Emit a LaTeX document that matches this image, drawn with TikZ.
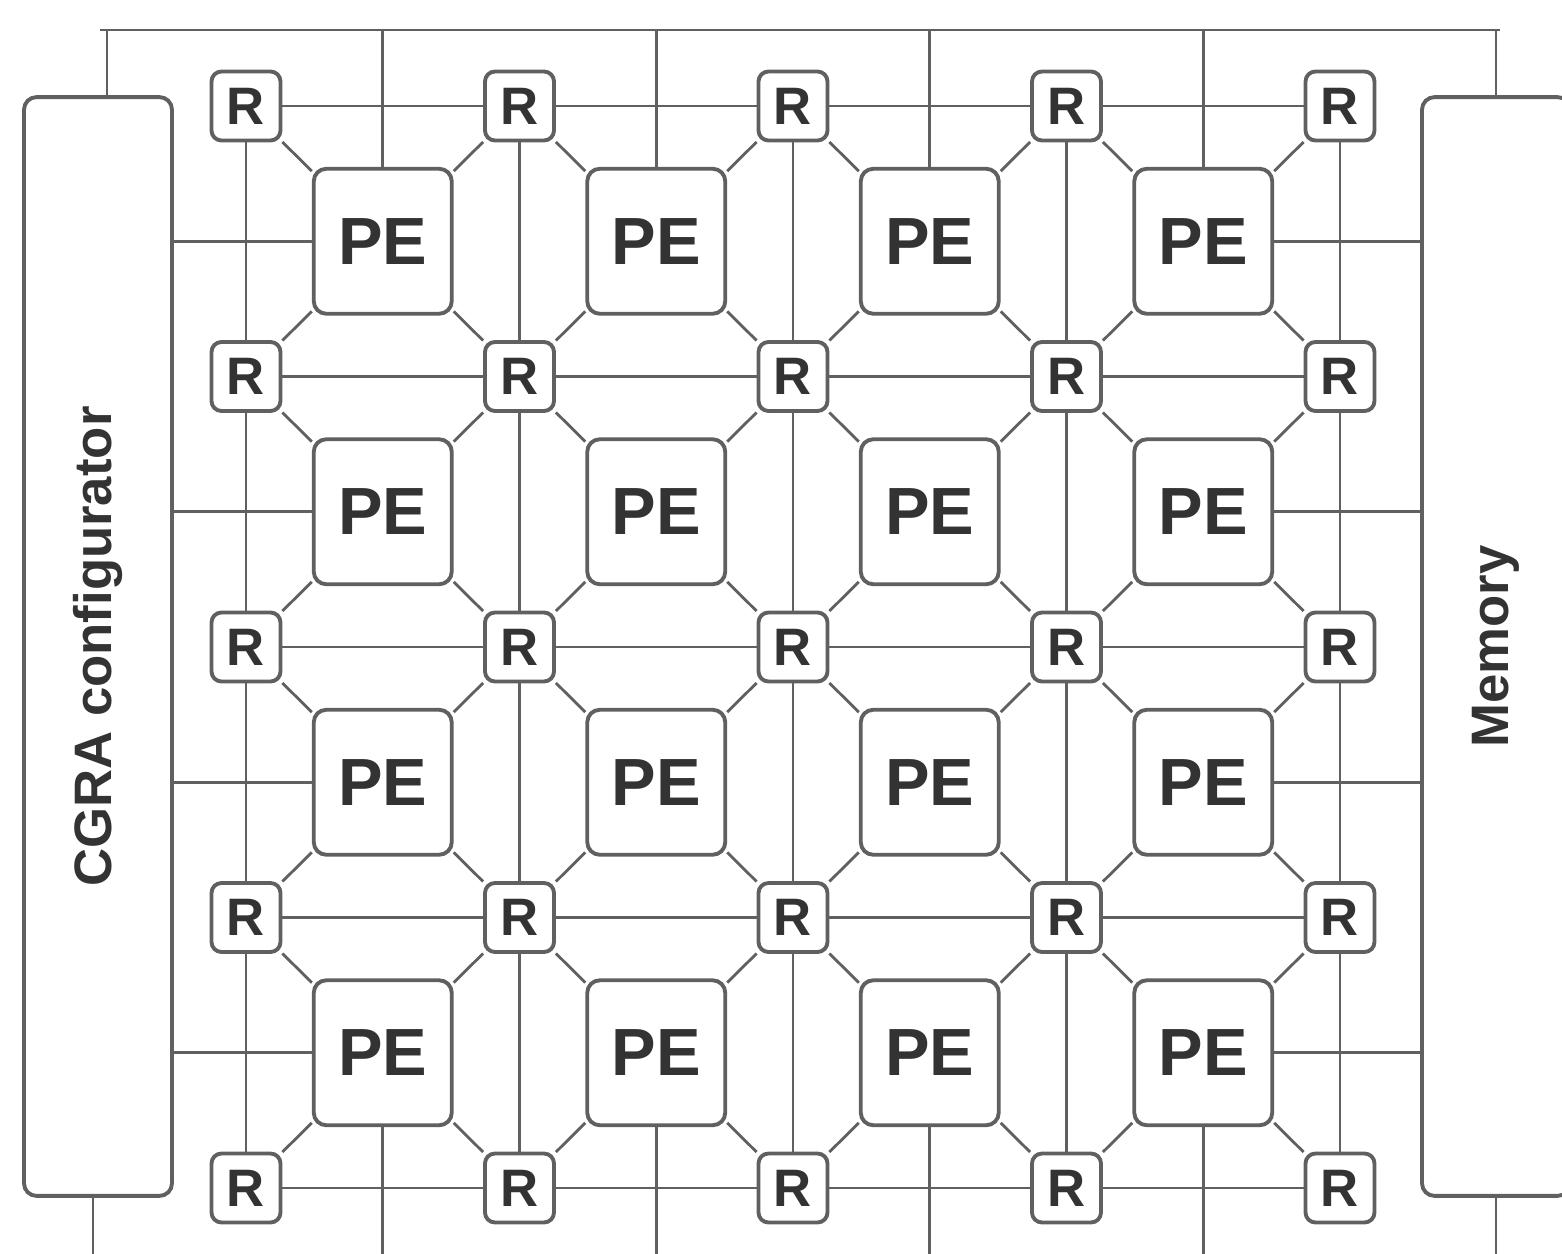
\documentclass[tikz,border=0pt]{standalone}
\usepackage{fontspec}
\setmainfont{Liberation Sans}
\usetikzlibrary{positioning}
\definecolor{wiregray}{HTML}{606060}
\definecolor{inkgray}{HTML}{333333}
\tikzset{
    base/.style={draw=wiregray, line width=2.2pt, fill=white, text=inkgray, inner sep=0pt,
        font=\fontsize{30}{30}\selectfont\bfseries},
    router/.style={base, rectangle, rounded corners=0.2cm, minimum width=1.38cm, minimum height=1.38cm},
    pe/.style={base, rectangle, rounded corners=0.25cm, minimum width=2.76cm, minimum height=2.9cm,
        font=\fontsize{38}{38}\selectfont\bfseries},
    unit/.style={base, rectangle, rounded corners=0.25cm, rotate=90, minimum width=21.98cm, minimum height=2.96cm},
    link/.style={draw=wiregray, line width=1.6pt}
}

\begin{document}
\begin{tikzpicture}[x=0.02cm, y=-0.02cm]
    \useasboundingbox (0,0) rectangle (1562,1254);
    \clip (0,0) rectangle (1562,1254);

    % side units
    \node (config) [unit] at (98,646.5) {CGRA configurator};
    \node (memory) [unit] at (1496,646.5) {Memory};

    % bus ends
    \coordinate (busW) at (100,30);
    \coordinate (busE) at (1500,30);
    \coordinate (floor) at (0,1260);

    % routers and processing elements
    \foreach \i in {1,...,5}
        \foreach \j in {1,...,5}
            \node (r-\i-\j) [router] at ({246+273.5*(\i-1)},{106+270.5*(\j-1)}) {R};
    \foreach \i in {1,...,4}
        \foreach \j in {1,...,4}
            \node (pe-\i-\j) [pe] at ({382.75+273.5*(\i-1)},{241.25+270.5*(\j-1)}) {PE};

    % router mesh
    \foreach \i [count=\k from 2] in {1,...,4}
        \foreach \j in {1,...,5} {
            \draw [link] (r-\i-\j) -- (r-\k-\j);
            \draw [link] (r-\j-\i) -- (r-\j-\k);
        }

    % PE to corner routers
    \foreach \i [count=\k from 2] in {1,...,4}
        \foreach \j [count=\l from 2] in {1,...,4} {
            \draw [link] (pe-\i-\j) -- (r-\i-\j);
            \draw [link] (pe-\i-\j) -- (r-\k-\j);
            \draw [link] (pe-\i-\j) -- (r-\i-\l);
            \draw [link] (pe-\i-\j) -- (r-\k-\l);
        }

    % bus and side links
    \draw [link] (busW) -- (busE);
    \draw [link] ([xshift=0.18cm]config.east) -- ([xshift=0.18cm]config.east |- busW);
    \draw [link] (memory.east) -- (memory.east |- busE);
    \draw [link] ([xshift=-0.1cm]config.west) -- ([xshift=-0.1cm]config.west |- floor);
    \draw [link] (memory.west) -- (memory.west |- floor);
    \foreach \i in {1,...,4} {
        \draw [link] (pe-\i-1.north) -- (pe-\i-1.north |- busW);
        \draw [link] (pe-\i-4.south) -- (pe-\i-4.south |- floor);
        \draw [link] (pe-1-\i.west) -- (pe-1-\i.west -| config.south);
        \draw [link] (pe-4-\i.east) -- (pe-4-\i.east -| memory.north);
    }
\end{tikzpicture}
\end{document}
